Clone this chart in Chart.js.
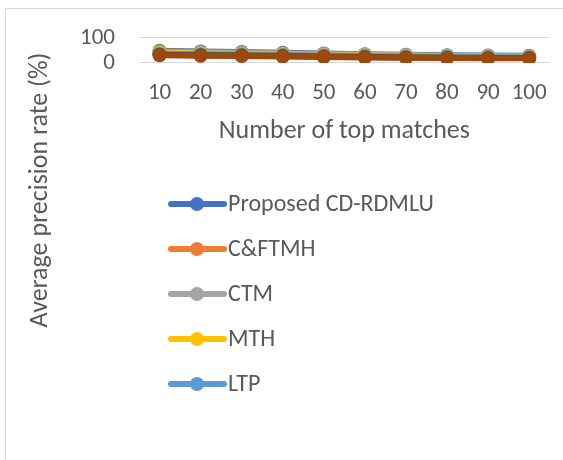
<!DOCTYPE html>
<html>
<head>
<meta charset="utf-8">
<script src="https://cdn.jsdelivr.net/npm/chart.js@4.4.0/dist/chart.umd.min.js"></script>
<style>
    html, body { margin: 0; padding: 0; background: #ffffff; }
    #wrap { width: 563px; height: 460px; position: relative; }
</style>
</head>
<body>
<div id="wrap"><canvas id="precisionChart" width="563" height="460"></canvas></div>
<script>
// Categories and series
const topMatches = ['10', '20', '30', '40', '50', '60', '70', '80', '90', '100'];
const yTicks = [0, 100];

const proposedCD = [49, 46, 44, 41, 38, 35, 33, 31, 30, 29];
const cfTMH      = [46, 43, 41, 38, 36, 33, 31, 29, 28, 27];
const ctm        = [43, 41, 39, 37, 34, 32, 30, 28, 27, 26];
const mth        = [40, 38, 36, 34, 32, 30, 28, 26, 25, 24];
const ltp        = [37, 35, 34, 32, 30, 28, 26, 25, 24, 23];
const method6    = [35, 33, 32, 30, 28, 26, 24, 23, 22, 21];
const method7    = [33, 31, 30, 28, 26, 24, 22, 21, 20, 20];
const method8    = [31, 29, 28, 26, 24, 22, 21, 20, 19, 19];

const seriesNames  = ['Proposed CD-RDMLU', 'C&FTMH', 'CTM', 'MTH', 'LTP', 'Method 6', 'Method 7', 'Method 8'];
const seriesValues = [proposedCD, cfTMH, ctm, mth, ltp, method6, method7, method8];
const seriesColors = ['#4472C4', '#ED7D31', '#A5A5A5', '#FFC000', '#5B9BD5', '#70AD47', '#264478', '#9E480E'];
const legendCount = 5;

const textColor = '#595959';
const gridColor = '#d9d9d9';
const fontFamily = "Carlito, Calibri, 'Open Sans', 'Noto Sans', sans-serif";

// Outer frame, rotated y title and vertical legend
const decorPlugin = {
    id: 'decor',
    beforeDraw(chart) {
        const c = chart.ctx;
        c.save();
        c.fillStyle = '#ffffff';
        c.fillRect(0, 0, chart.width, chart.height);
        c.strokeStyle = '#d9d9d9';
        c.lineWidth = 1;
        c.beginPath();
        c.moveTo(5.5, chart.height + 2);
        c.lineTo(5.5, 8.5);
        c.lineTo(chart.width + 2, 8.5);
        c.stroke();
        c.restore();
    },
    afterDraw(chart) {
        const c = chart.ctx;
        c.save();
        // y axis title
        c.translate(40, 190);
        c.rotate(-Math.PI / 2);
        c.fillStyle = textColor;
        c.font = "26px " + fontFamily;
        c.textAlign = 'center';
        c.textBaseline = 'middle';
        c.fillText('Average precision rate (%)', 0, 0);
        c.restore();

        // legend
        c.save();
        c.font = "24px " + fontFamily;
        c.textBaseline = 'middle';
        for (let i = 0; i < legendCount; i++) {
            const ds = chart.data.datasets[i];
            const y = 204 + i * 45;
            c.strokeStyle = ds.borderColor;
            c.lineWidth = 6;
            c.lineCap = 'round';
            c.beginPath();
            c.moveTo(171, y);
            c.lineTo(224, y);
            c.stroke();
            c.fillStyle = ds.borderColor;
            c.beginPath();
            c.arc(197, y, 7, 0, Math.PI * 2);
            c.fill();
            c.fillStyle = textColor;
            c.fillText(ds.label, 228, y + 1);
        }
        c.restore();
    }
};

// later series sit on top, as in the original workbook
const datasets = seriesNames.map((name, i) => ({
    label: name,
    data: seriesValues[i],
    order: seriesNames.length - 1 - i,
    borderColor: seriesColors[i],
    backgroundColor: seriesColors[i],
    borderWidth: 6,
    pointRadius: 7,
    pointBorderWidth: 0,
    pointBackgroundColor: seriesColors[i],
    tension: 0
}));

new Chart(document.getElementById('precisionChart'), {
    type: 'line',
    data: { labels: topMatches, datasets: datasets },
    plugins: [decorPlugin],
    options: {
        responsive: false,
        animation: false,
        devicePixelRatio: 1,
        layout: { padding: { left: 0, right: 1, top: 37, bottom: 313 } },
        plugins: {
            legend: { display: false },
            tooltip: { enabled: false }
        },
        scales: {
            x: {
                offset: true,
                grid: { display: false, drawTicks: false },
                border: { color: gridColor, width: 1 },
                ticks: {
                    color: textColor,
                    padding: 16,
                    maxRotation: 0,
                    autoSkip: false,
                    font: { family: fontFamily, size: 23 }
                },
                title: {
                    display: true,
                    text: 'Number of top matches',
                    color: textColor,
                    padding: { top: 0, bottom: 0 },
                    font: { family: fontFamily, size: 26 }
                },
                afterFit(axis) {
                    axis.height = 84;
                }
            },
            y: {
                min: 0,
                max: 100,
                afterBuildTicks(axis) {
                    axis.ticks = yTicks.map(v => ({ value: v }));
                },
                grid: { color: gridColor, drawTicks: false },
                border: { display: false },
                ticks: {
                    color: textColor,
                    padding: 24,
                    autoSkip: false,
                    font: { family: fontFamily, size: 23 }
                },
                afterFit(axis) {
                    axis.width = 139;
                }
            }
        }
    }
});
</script>
</body>
</html>
